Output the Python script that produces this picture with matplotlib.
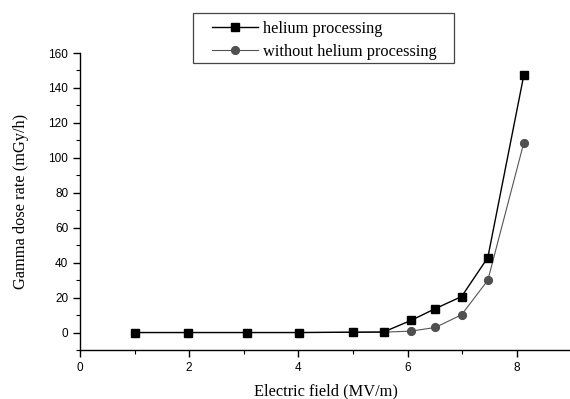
import matplotlib
matplotlib.use('Agg')
from matplotlib import pyplot as plt
from matplotlib.patches import Rectangle
from matplotlib.ticker import MultipleLocator

# 数据
field = [1.01, 1.98, 3.06, 4.02, 5.0, 5.56, 6.06, 6.51, 6.99, 7.47, 8.13]
helium = [0.0, 0.0, 0.0, 0.0, 0.2, 0.3, 6.9, 13.7, 20.6, 42.9, 147.4]
without_helium = [0.0, 0.0, 0.0, 0.0, 0.1, 0.2, 0.8, 2.9, 10.2, 29.9, 108.7]

serif = ['Liberation Serif', 'DejaVu Serif']
sans = ['Liberation Sans', 'DejaVu Sans']

W, H = 570, 399
fig = plt.figure(figsize=(W / 100, H / 100), dpi=100)
ax = fig.add_axes([80 / W, 1 - 350 / H, 0.862, 297 / H])

ax.plot(field, helium, color='black', lw=1.0, marker='s', ms=5.2,
        mfc='black', mec='black', label='helium processing', zorder=3)
ax.plot(field, without_helium, color='#555555', lw=0.8, marker='o', ms=5.6,
        mfc='#505050', mec='#505050', label='without helium processing', zorder=2)

ax.set_xlim(0, 9)
ax.set_ylim(-10, 160)
ax.xaxis.set_major_locator(MultipleLocator(2))
ax.xaxis.set_minor_locator(MultipleLocator(1))
ax.yaxis.set_major_locator(MultipleLocator(20))
ax.yaxis.set_minor_locator(MultipleLocator(10))

for side in ('top', 'right'):
    ax.spines[side].set_visible(False)
for side in ('left', 'bottom'):
    ax.spines[side].set_linewidth(1.0)

ax.tick_params(which='major', direction='out', length=5, width=1.0, labelsize=8.5)
ax.tick_params(which='minor', direction='out', length=3, width=0.8)
for lab in ax.get_xticklabels() + ax.get_yticklabels():
    lab.set_family(sans)

ax.set_xlabel('Electric field (MV/m)', family=serif, fontsize=11.8, labelpad=7)
ax.set_ylabel('Gamma dose rate (mGy/h)', family=serif, fontsize=11.8, labelpad=14)

# 图例：无边框图例 + 单独画的外框
leg = ax.legend(loc='upper left', bbox_to_anchor=(204 / W, 1 - 13 / H),
                bbox_transform=fig.transFigure, frameon=False,
                handlelength=2.8, handletextpad=0.3, borderpad=0.0,
                labelspacing=0.42, prop={'family': serif, 'size': 11.8})
fig.patches.append(Rectangle((193 / W, 1 - 63 / H), 261 / W, 50 / H,
                             transform=fig.transFigure, fill=False,
                             edgecolor='#444444', lw=0.9))

fig.savefig('out.png', dpi=100)
